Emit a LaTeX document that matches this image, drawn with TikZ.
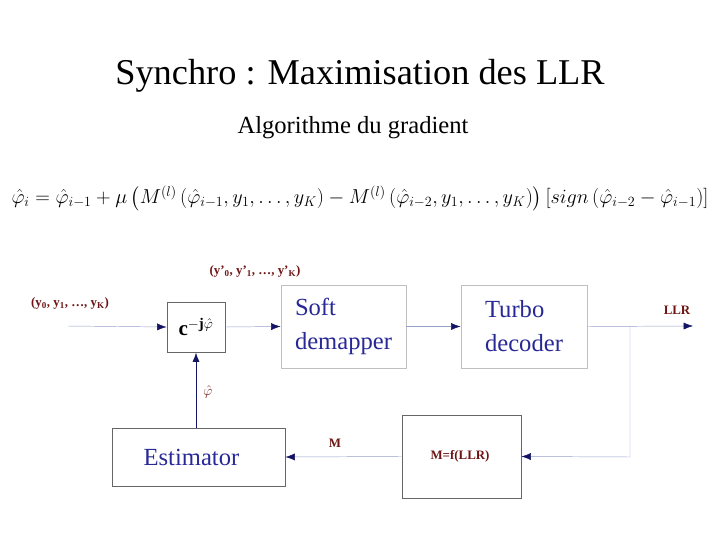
\documentclass[tikz,border=0pt]{standalone}
\usepackage{amsmath}
\usepackage{fontspec}
\setmainfont{Liberation Serif}
\usetikzlibrary{positioning,arrows.meta}
\definecolor{boxtext}{RGB}{40,40,150}
\definecolor{lbl}{RGB}{110,20,20}
\definecolor{navy}{RGB}{20,20,100}
\definecolor{pale}{RGB}{150,160,200}
\begin{document}
\begin{tikzpicture}[x=0.03cm,y=-0.03cm,
         block/.style = {draw=gray!80!black, thick, inner sep=0pt},
         lab/.style = {text=lbl, font=\bfseries\fontsize{11}{13}\selectfont},
         flow/.style = {draw=pale, -{Latex[length=8pt,width=6pt,color=navy]}},
         back/.style = {draw=navy, thick, -{Latex[length=8pt,width=6pt]}}
]
   \useasboundingbox (0,0) rectangle (720,540);
   \node (title) at (360,76) {\fontsize{31}{36}\selectfont Synchro : Maximisation des LLR};
   \node (sub) at (353,128) {\fontsize{21}{25}\selectfont Algorithme du gradient};
   \node (eq) at (360,198) {\fontsize{17.5}{21}\selectfont $\hat{\varphi}_i=\hat{\varphi}_{i-1}+\mu\left(M^{(l)}\left(\hat{\varphi}_{i-1},y_1,\ldots,y_K\right)-M^{(l)}\left(\hat{\varphi}_{i-2},y_1,\ldots,y_K\right)\right)\left[sign\left(\hat{\varphi}_{i-2}-\hat{\varphi}_{i-1}\right)\right]$};

   % blocks
   \node[block, minimum width=58*0.03cm, minimum height=50*0.03cm, font=\fontsize{18}{20}\selectfont] (rot) at (196,327) {\textbf{c}$^{\mathbf{-j}\hat{\varphi}}$};
   \node[block, draw=gray!50, minimum width=125*0.03cm, minimum height=83*0.03cm, text=boxtext, align=left, font=\fontsize{21}{29}\selectfont] (demap) at (343.5,326.5) {Soft\\demapper};
   \node[block, draw=gray!50, minimum width=126*0.03cm, minimum height=83*0.03cm, text=boxtext, align=left, font=\fontsize{21}{29}\selectfont] (turbo) at (524,326.5) {Turbo\\decoder};
   \node[block, minimum width=173*0.03cm, minimum height=58*0.03cm, text=boxtext, font=\fontsize{21}{25}\selectfont] (est) at (198.5,457) {\hspace*{-12pt}Estimator};
   \node[block, minimum width=119*0.03cm, minimum height=83*0.03cm] (mbox) at (461.5,456.5) {};
   \node[lab] (mf) at (460,456) {M=f(LLR)};

   \coordinate (in) at (68,326);
   \coordinate (out) at (693,326);
   \coordinate (tap) at (630,326);
   \coordinate (bend) at (630,457);

   % labels
   \node[lab] (ylab) at (70,303) {(y$_{\mathbf 0}$, y$_{\mathbf 1}$, \ldots, y$_{\mathbf K}$)};
   \node[lab] (yplab) at (255,271) {(y'$_{\mathbf 0}$, y'$_{\mathbf 1}$, \ldots, y'$_{\mathbf K}$)};
   \node[lab] (llr) at (677,310) {LLR};
   \node[lab] (mlab) at (335,443) {M};
   \node[text=lbl, font=\large] (phi) at (208,392) {$\hat{\varphi}$};

   % connectors
   \draw[flow] (in) -- (rot.west);
   \draw[flow] (rot.east) -- (demap.west);
   \draw[flow] (demap.east) -- (turbo.west);
   \draw[flow] (turbo.east) -- (out);
   \draw[flow] (tap) -- (bend) -- (mbox.east);
   \draw[flow] (mbox.west) -- (est.east);
   \draw[back] (est.north -| rot.south) -- (rot.south);
\end{tikzpicture}
\end{document}
